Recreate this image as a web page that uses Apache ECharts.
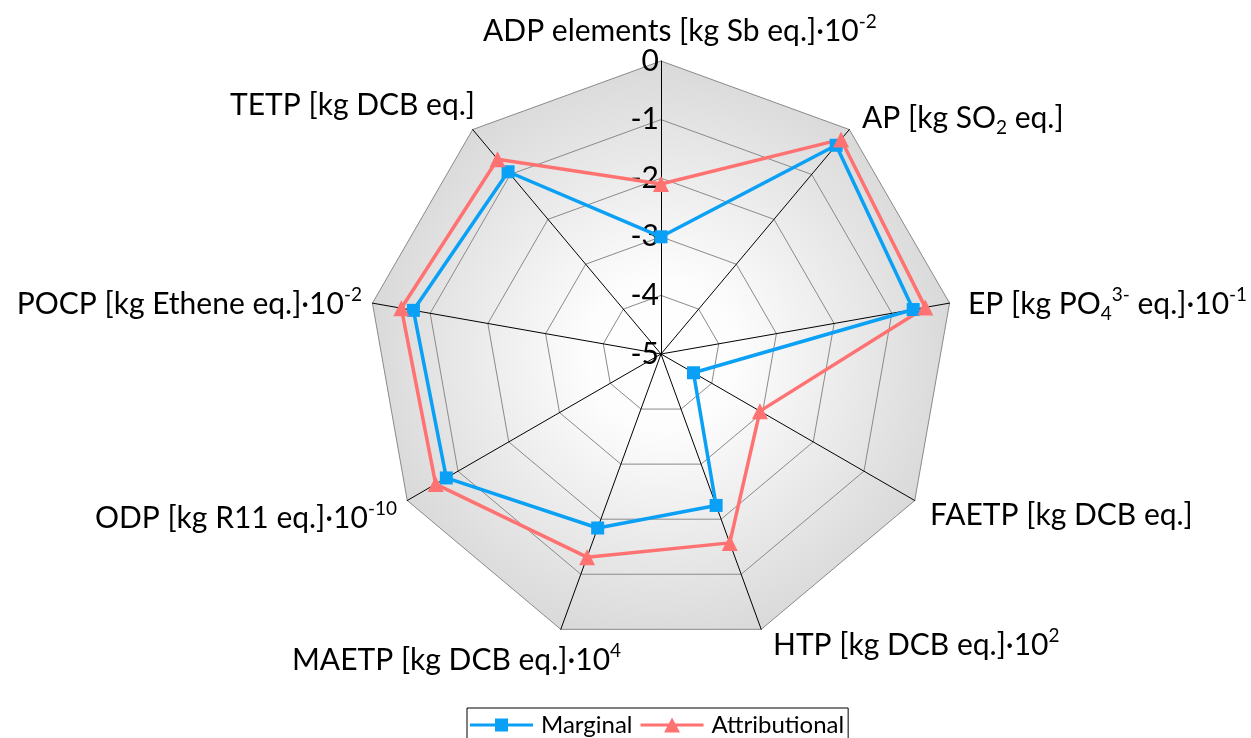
<!DOCTYPE html>
<html>
<head>
<meta charset="utf-8">
<title>Impact categories – Marginal vs Attributional</title>
<script src="https://cdn.jsdelivr.net/npm/echarts@6/dist/echarts.min.js"></script>
<style>
  html, body { margin: 0; padding: 0; background: #ffffff; }
  #chart { width: 1251px; height: 738px; }
</style>
</head>
<body>
<div id="chart"></div>
<script>
// Impact categories, listed clockwise starting from the top axis
const categories = ['ADP elements', 'AP', 'EP', 'FAETP', 'HTP', 'MAETP', 'ODP', 'POCP', 'TETP'];

// Axis titles with units (rich text: {sup|..} superscript, {sub|..} subscript)
const categoryTitles = [
  'ADP elements [kg Sb eq.]·10{sup|-2}',
  'AP [kg SO{sub|2} eq.]',
  'EP [kg PO{sub|4}{sup|3-} eq.]·10{sup|-1}',
  'FAETP [kg DCB eq.]',
  'HTP [kg DCB eq.]·10{sup|2}',
  'MAETP [kg DCB eq.]·10{sup|4}',
  'ODP [kg R11 eq.]·10{sup|-10}',
  'POCP [kg Ethene eq.]·10{sup|-2}',
  'TETP [kg DCB eq.]'
];

// Series values (log-scaled results), same order as categories
const marginal      = [-3.00, -0.35, -0.63, -4.36, -2.25, -1.84, -0.77, -0.71, -0.94];
const attributional = [-2.10, -0.22, -0.42, -3.05, -1.57, -1.31, -0.56, -0.50, -0.66];

// Value axis range and ticks
const axisMin = -5;
const axisMax = 0;
const axisSplits = 5;

const seriesNames = ['Marginal', 'Attributional'];

// ---- layout & styling ----
const FONT = 'Lato, "Noto Sans", sans-serif';
const BLUE = '#0aa0f5';
const RED = '#ff7272';
const CENTER = [661, 354];
const RADIUS = 293;

// ECharts places radar indicators counter-clockwise, so walk the list backwards
const order = categories.map((_, i) => (categories.length - i) % categories.length);

// Where each axis title sits around the polygon
const titlePlacement = [
  { x: 483, y: 31,  align: 'left'   },
  { x: 862, y: 118, align: 'left'   },
  { x: 968, y: 304, align: 'left'   },
  { x: 930, y: 515, align: 'left'   },
  { x: 773, y: 645, align: 'left'   },
  { x: 292, y: 660, align: 'left'   },
  { x: 397, y: 518, align: 'right'  },
  { x: 362, y: 304, align: 'right'  },
  { x: 475, y: 105, align: 'right'  }
];

const richStyles = {
  sup: { fontFamily: FONT, fontSize: 19, lineHeight: 19, verticalAlign: 'top', color: '#000' },
  sub: { fontFamily: FONT, fontSize: 19, lineHeight: 19, verticalAlign: 'bottom', color: '#000' }
};

const chart = echarts.init(document.getElementById('chart'), null, { renderer: 'canvas' });

const bgGradient = new echarts.graphic.RadialGradient(
  CENTER[0], CENTER[1], RADIUS,
  [
    { offset: 0, color: '#ffffff' },
    { offset: 0.25, color: '#fdfdfd' },
    { offset: 1, color: '#d9d9d9' }
  ],
  true
);

const option = {
  backgroundColor: '#ffffff',
  animation: false,
  legend: {
    data: [
      { name: seriesNames[0], icon: 'path://M0,6.5h63v3h-63z M25,1.5h13v13h-13z' },
      { name: seriesNames[1], icon: 'path://M0,6.5h63v3h-63z M23.5,15.5L31.5,0.5L39.5,15.5z' }
    ],
    left: 467,
    top: 708,
    orient: 'horizontal',
    itemWidth: 63,
    itemHeight: 16,
    itemGap: 8,
    padding: [5, 4, 10, 3],
    borderColor: '#000',
    borderWidth: 1,
    textStyle: { fontFamily: FONT, fontSize: 24, color: '#000', padding: [0, 0, 0, 3] }
  },
  radar: {
    center: CENTER,
    radius: RADIUS,
    startAngle: 90,
    shape: 'polygon',
    splitNumber: axisSplits,
    indicator: order.map(i => ({
      name: categories[i],
      min: axisMin,
      max: axisMax,
      axisLabel: { show: i === 0 }
    })),
    axisName: { show: false },
    axisLine: { show: true, lineStyle: { color: '#000', width: 1 } },
    axisTick: { show: false },
    axisLabel: {
      show: false,
      fontFamily: FONT,
      fontSize: 30,
      color: '#000',
      margin: 2
    },
    splitLine: { show: true, lineStyle: { color: '#8a8a8a', width: 1 } },
    splitArea: { show: true, areaStyle: { color: [bgGradient] } }
  },
  series: [
    {
      type: 'radar',
      z: 3,
      data: [
        {
          name: seriesNames[0],
          value: order.map(i => marginal[i]),
          symbol: 'rect',
          symbolSize: 13,
          lineStyle: { color: BLUE, width: 3.5 },
          itemStyle: { color: BLUE }
        },
        {
          name: seriesNames[1],
          value: order.map(i => attributional[i]),
          symbol: 'triangle',
          symbolSize: 16,
          lineStyle: { color: RED, width: 3.5 },
          itemStyle: { color: RED }
        }
      ]
    }
  ],
  graphic: categoryTitles.map((t, i) => ({
    type: 'text',
    x: titlePlacement[i].x,
    y: titlePlacement[i].y,
    silent: true,
    style: {
      text: t,
      fontFamily: FONT,
      fontSize: 30,
      lineHeight: 38,
      fill: '#000',
      align: titlePlacement[i].align,
      verticalAlign: 'middle',
      rich: richStyles
    }
  }))
};

chart.setOption(option);
</script>
</body>
</html>
